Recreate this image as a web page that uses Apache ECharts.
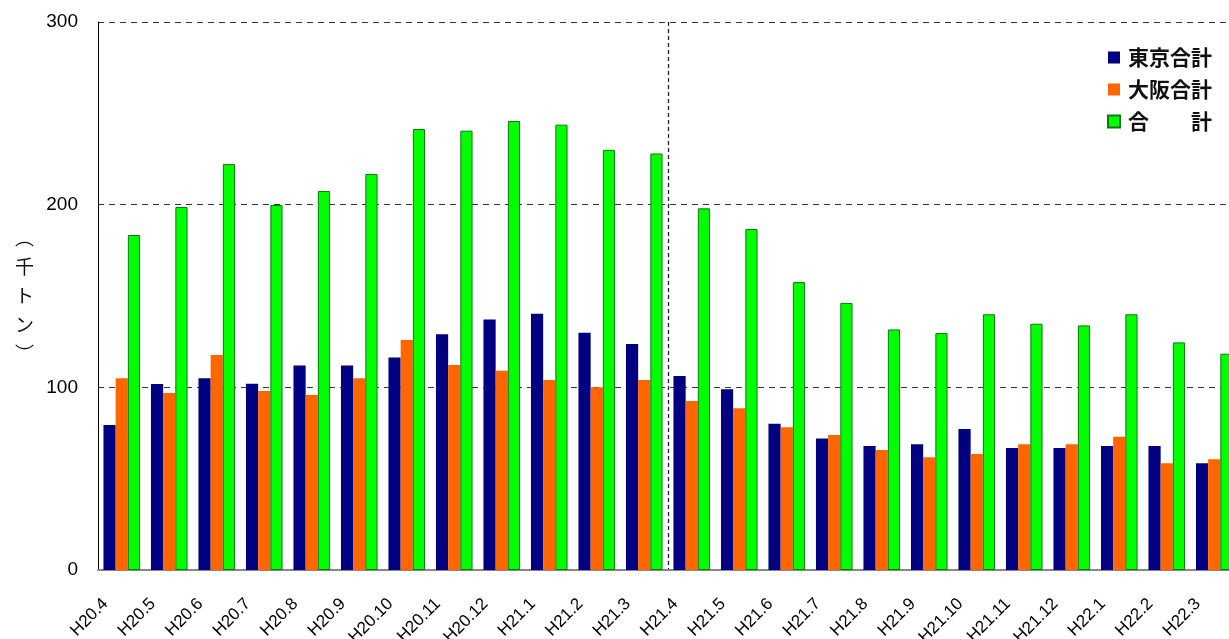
<!DOCTYPE html>
<html lang="ja" style="height: 100%">
<head>
  <meta charset="utf-8">
  <script src="https://cdn.jsdelivr.net/npm/echarts@6/dist/echarts.min.js"></script>
  <style>
    body { height: 100%; margin: 0; background: #fff; }
    #chart { width: 1229px; height: 639px; }
  </style>
</head>
<body>
  <div id="chart"></div>
  <script>
    // 月次データ（千トン）
    var months = ['H20.4', 'H20.5', 'H20.6', 'H20.7', 'H20.8', 'H20.9', 'H20.10', 'H20.11', 'H20.12',
      'H21.1', 'H21.2', 'H21.3', 'H21.4', 'H21.5', 'H21.6', 'H21.7', 'H21.8', 'H21.9', 'H21.10',
      'H21.11', 'H21.12', 'H22.1', 'H22.2', 'H22.3'];
    var tokyo = [79.4, 101.8, 105, 102, 112, 112, 116.4, 129, 137.2, 140.3, 129.9, 123.7,
      106.2, 98.9, 80.1, 72, 67.9, 68.8, 77.2, 66.8, 66.8, 67.9, 67.9, 58.4];
    var osaka = [105, 96.9, 117.7, 98, 95.8, 105, 125.9, 112.2, 109.1, 104, 100, 104,
      92.5, 88.5, 78.1, 73.9, 65.7, 61.7, 63.5, 68.8, 68.8, 73, 58.4, 60.6];
    var total = [183.4, 198.7, 222.2, 199.8, 207.5, 216.8, 241.4, 240.5, 245.8, 243.8, 230, 228,
      198, 186.7, 157.6, 146.2, 131.7, 129.7, 140, 134.8, 133.9, 140, 124.6, 118.4];
    var yTicks = [0, 100, 200, 300];
    // H20年度 / H21年度 の区切り（12か月ずつ）
    var fiscalYears = ['H20年度', 'H21年度'];

    var numFont = '"Liberation Sans", Arial, sans-serif';
    var jpFont = '"Noto Sans CJK JP", sans-serif';

    var myChart = echarts.init(document.getElementById('chart'));
    var option = {
      backgroundColor: '#fff',
      animation: false,
      grid: { left: 98, top: 22, bottom: 69, right: -9, outerBoundsMode: 'none' },
      legend: {
        orient: 'vertical', left: 1107, top: 47, padding: 0,
        itemWidth: 12, itemHeight: 12, itemGap: 11, icon: 'rect',
        textStyle: { fontSize: 21, fontWeight: 'bold', color: '#111', fontFamily: jpFont, padding: [0, 0, 0, 3] },
        data: ['東京合計', '大阪合計', '合　　計']
      },
      xAxis: [{
        type: 'category', data: months, boundaryGap: true,
        axisLine: { lineStyle: { color: '#888', width: 2 } },
        axisTick: { inside: true, length: 5, lineStyle: { color: '#222' } },
        axisLabel: { rotate: 45, fontSize: 17, color: '#000', fontFamily: numFont, margin: 15,
          padding: [0, 23, 0, 0], interval: 0 },
        splitLine: { show: false }
      }, {
        // 年度の境目に縦の点線を引くための補助軸
        type: 'category', data: fiscalYears, position: 'bottom', boundaryGap: true,
        axisLine: { show: false }, axisTick: { show: false }, axisLabel: { show: false },
        splitLine: { show: true, showMinLine: false, showMaxLine: false,
          lineStyle: { color: '#222', type: [4, 3], width: 1.3 } }
      }],
      yAxis: {
        type: 'value', min: yTicks[0], max: yTicks[yTicks.length - 1], interval: 100,
        name: '︵\n千\nト\nン\n︶', nameLocation: 'middle', nameRotate: 0, nameGap: 64,
        nameTextStyle: { fontSize: 19, lineHeight: 29, color: '#111', fontFamily: jpFont },
        axisLine: { show: true, lineStyle: { color: '#000' } },
        axisTick: { show: false },
        axisLabel: { fontSize: 19, color: '#000', fontFamily: numFont, margin: 20 },
        splitLine: { lineStyle: { color: '#333', type: [6, 5], width: 1 } }
      },
      series: [
        { name: '東京合計', type: 'bar', data: tokyo, barGap: '0%', barCategoryGap: '23%',
          itemStyle: { color: '#000080' } },
        { name: '大阪合計', type: 'bar', data: osaka, barGap: '0%', barCategoryGap: '23%',
          itemStyle: { color: '#FF6600' } },
        { name: '合　　計', type: 'bar', data: total, barGap: '0%', barCategoryGap: '23%',
          itemStyle: { color: '#00FF00', borderColor: '#0A7A0A', borderWidth: 1 } }
      ]
    };
    myChart.setOption(option);
  </script>
</body>
</html>
